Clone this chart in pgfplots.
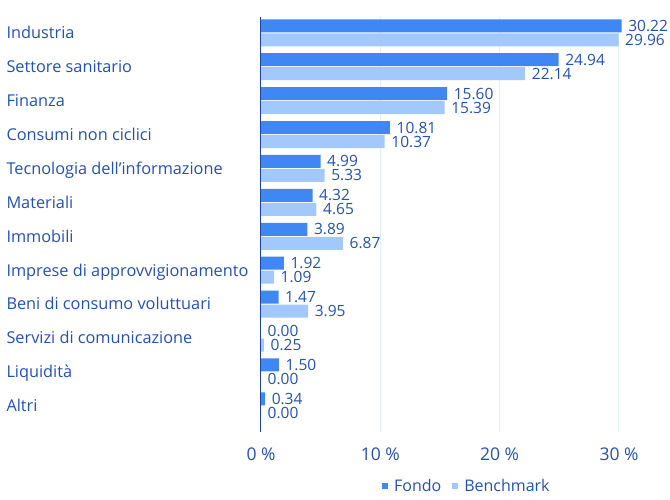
\documentclass[border=0pt]{standalone}
\usepackage{pgfplots}
\pgfplotsset{compat=1.18}
\usepackage{pgfplotstable}
\usepackage{fontspec}
\setmainfont{Open Sans}
\definecolor{txt}{HTML}{2450B4}
\definecolor{fondo}{HTML}{3F87F2}
\definecolor{bench}{HTML}{A3C8FC}
\definecolor{axisc}{HTML}{1C44A3}
\definecolor{gridc}{HTML}{E3EEFC}

\pgfplotstableread{
idx fondo bench
0 30.22 29.96
1 24.94 22.14
2 15.60 15.39
3 10.81 10.37
4 4.99 5.33
5 4.32 4.65
6 3.89 6.87
7 1.92 1.09
8 1.47 3.95
9 0.00 0.25
10 1.50 0.00
11 0.34 0.00
}\data

\begin{document}
\begin{tikzpicture}
\path[use as bounding box] (-261pt,-67pt) rectangle (409pt,432pt);
\begin{axis}[
  scale only axis, width=358pt, height=414.7pt,
  xmin=0, xmax=30, ymin=-0.457, ymax=11.77, y dir=reverse,
  clip=false,
  xbar, bar width=13pt,
  axis line style={draw=none},
  major tick length=0pt,
  /pgf/number format/assume math mode=true,
  xmajorgrids, grid style={gridc, line width=1pt},
  xtick={0,10,20,30},
  xticklabels={0 \%,10 \%,20 \%,30 \%},
  xticklabel style={anchor=base, yshift=-28pt, font=\fontsize{17.5}{19}\selectfont, text=txt},
  ytick={0,...,11},
  yticklabels={Industria,Settore sanitario,Finanza,Consumi non ciclici,Tecnologia dell’informazione,Materiali,Immobili,Imprese di approvvigionamento,Beni di consumo voluttuari,Servizi di comunicazione,Liquidità,Altri},
  yticklabel style={anchor=base west, xshift=-258pt, yshift=-5.8pt, font=\fontsize{16.3}{18}\selectfont, text=txt},
  point meta=x,
  nodes near coords={\pgfmathprintnumber[fixed,fixed zerofill,precision=2,assume math mode=true]{\pgfplotspointmeta}},
  nodes near coords style={anchor=west, inner sep=0pt, xshift=6.5pt, font=\fontsize{15.5}{17}\selectfont, text=txt},
  legend style={at={(0.575,-0.13)}, anchor=center, draw=none, fill=none, legend columns=2,
    font=\fontsize{16}{18}\selectfont, text=txt,
    /tikz/every even column/.append style={column sep=9pt}},
  legend image code/.code={\path[#1,draw=none] (0pt,-3pt) rectangle (6pt,3pt); \path (0pt,0pt) -- (10pt,0pt);},
]
\addplot[fill=fondo, draw=none, bar shift=7pt] table[x=fondo, y=idx] {\data};
\addlegendentry{Fondo}
\addplot[fill=bench, draw=none, bar shift=-7pt] table[x=bench, y=idx] {\data};
\addlegendentry{Benchmark}
\draw[axisc, line width=1pt] (axis cs:0,-0.457) -- (axis cs:0,11.77);
\end{axis}
\end{tikzpicture}
\end{document}
